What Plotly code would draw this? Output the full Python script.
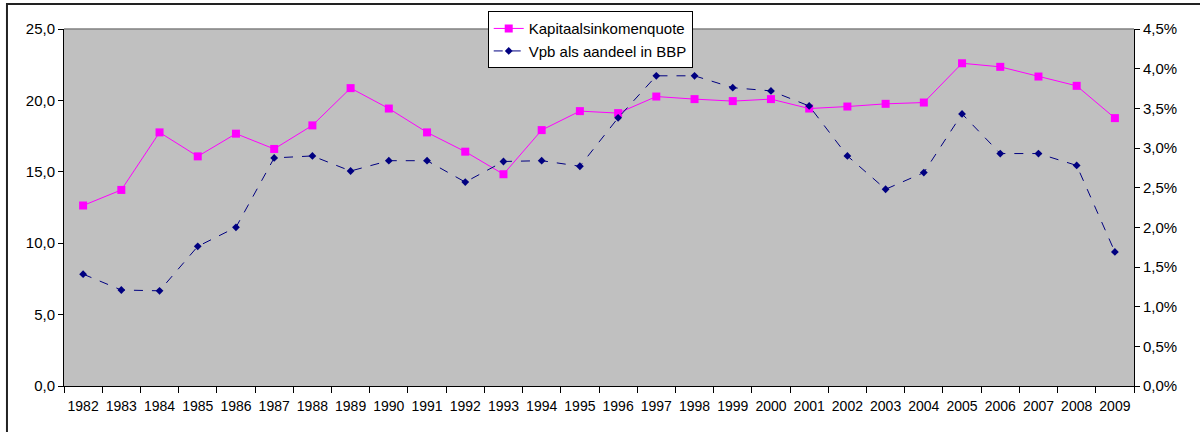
import plotly.graph_objects as go

# Years on the category axis
years = [str(y) for y in range(1982, 2010)]

# Capital income share (left axis)
kapitaalsinkomenquote = [12.64, 13.73, 17.76, 16.08, 17.67, 16.60, 18.25, 20.86, 19.43,
                         17.76, 16.41, 14.83, 17.92, 19.25, 19.11, 20.27, 20.09, 19.95,
                         20.09, 19.43, 19.57, 19.76, 19.85, 22.60, 22.35, 21.67, 21.02, 18.76]

# Corporate tax as share of GDP (right axis, fraction)
vpb_aandeel_bbp = [0.0141, 0.0121, 0.0120, 0.0176, 0.0200, 0.02875, 0.0290, 0.0271, 0.0284,
                   0.0284, 0.0257, 0.0283, 0.0284, 0.0277, 0.0338, 0.0391, 0.0391, 0.0376,
                   0.0372, 0.0353, 0.0290, 0.0248, 0.0269, 0.0343, 0.0293, 0.0293, 0.0278, 0.0169]

left_ticks = [0, 5, 10, 15, 20, 25]
right_ticks = [0, 0.005, 0.01, 0.015, 0.02, 0.025, 0.03, 0.035, 0.04, 0.045]

font_family = "Liberation Sans, Arial, sans-serif"

fig = go.Figure()

fig.add_trace(go.Scatter(
    x=years, y=kapitaalsinkomenquote, name="Kapitaalsinkomenquote",
    mode="lines+markers",
    line=dict(color="#FF00FF", width=1),
    marker=dict(symbol="square", size=8, color="#FF00FF"),
    yaxis="y",
))

fig.add_trace(go.Scatter(
    x=years, y=vpb_aandeel_bbp, name="Vpb als aandeel in BBP",
    mode="lines+markers",
    line=dict(color="#000080", width=1, dash="dash"),
    marker=dict(symbol="diamond", size=6, color="#000080"),
    yaxis="y2",
))

fig.update_layout(
    width=1200, height=432,
    margin=dict(l=64, r=66, t=28, b=46),
    paper_bgcolor="white",
    plot_bgcolor="#C0C0C0",
    separators=",.",
    font=dict(family=font_family, size=14, color="black"),
    showlegend=True,
    legend=dict(
        x=0.396, y=1.047, xanchor="left", yanchor="top",
        bgcolor="white", bordercolor="black", borderwidth=1,
        font=dict(family=font_family, size=15),
        tracegroupgap=0,
    ),
    xaxis=dict(
        type="category",
        range=[-0.5, len(years) - 0.5],
        showline=True, linecolor="black", linewidth=1,
        ticks="outside", ticklen=6, tickcolor="black",
        tickson="boundaries", tickangle=0, ticklabelstandoff=7,
        showgrid=False, zeroline=False,
        tickfont=dict(size=14),
    ),
    yaxis=dict(
        range=[0, 25], tickvals=left_ticks, tickformat=".1f",
        showline=True, linecolor="black", linewidth=1,
        ticks="outside", ticklen=5, tickcolor="black",
        showgrid=False, zeroline=False,
        tickfont=dict(size=15),
    ),
    yaxis2=dict(
        range=[0, 0.045], tickvals=right_ticks, tickformat=".1%",
        overlaying="y", side="right",
        showline=True, linecolor="black", linewidth=1,
        ticks="outside", ticklen=5, tickcolor="black",
        showgrid=False, zeroline=False,
        tickfont=dict(size=15),
    ),
    shapes=[
        # gray top edge of the plot area
        dict(type="line", xref="paper", yref="paper", x0=0, x1=1, y0=1, y1=1,
             line=dict(color="#808080", width=1.5), layer="above"),
        # outer chart frame
        dict(type="rect", xref="paper", yref="paper",
             x0=-0.0533, x1=1.07, y0=-0.16, y1=1.0698,
             line=dict(color="#222222", width=2), layer="above"),
    ],
)

fig.write_html("out.html")
